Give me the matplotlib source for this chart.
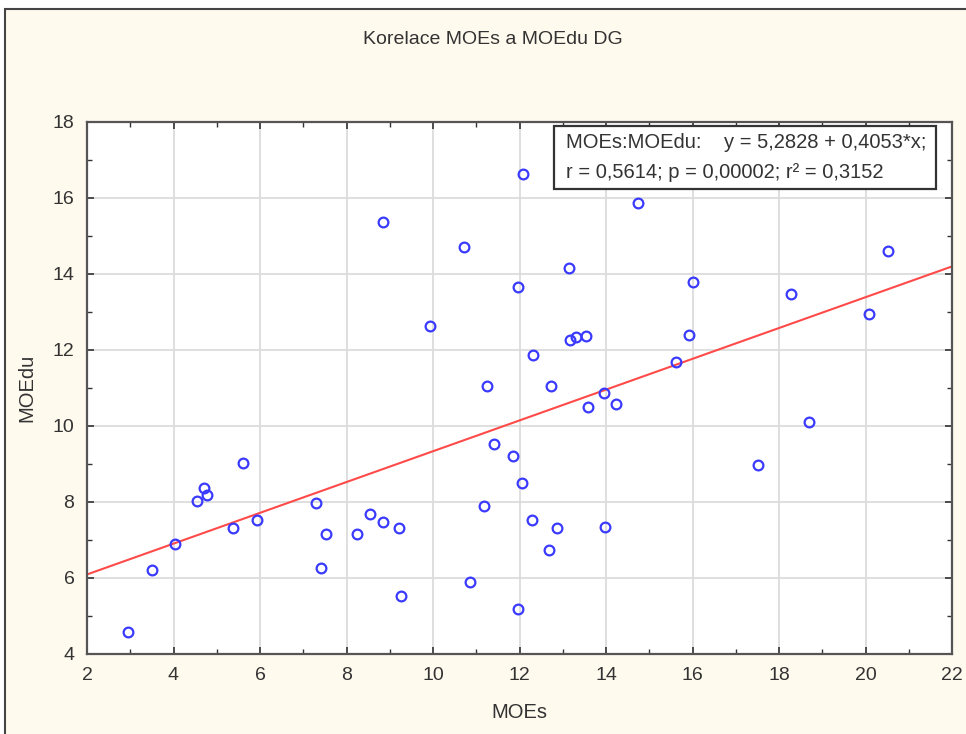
import matplotlib
matplotlib.use('Agg')
import matplotlib.pyplot as plt
from matplotlib.patches import Rectangle
from matplotlib.ticker import MultipleLocator
import numpy as np

# 字体
plt.rcParams['font.family'] = ['Liberation Sans', 'DejaVu Sans']

# ===== 数据=====
moes = [2.95, 3.50, 4.03, 4.54, 4.70, 4.78, 5.38, 5.61, 5.93, 7.29,
        7.42, 7.52, 8.24, 8.55, 8.85, 8.85, 9.21, 9.25, 9.93, 10.72,
        10.86, 11.19, 11.26, 11.41, 11.85, 11.97, 11.97, 12.08, 12.06, 12.29,
        12.31, 12.68, 12.73, 12.87, 13.14, 13.17, 13.30, 13.54, 13.58, 13.95,
        13.98, 14.22, 14.74, 15.62, 15.92, 16.01, 17.51, 18.28, 18.69, 20.08,
        20.52]
moedu = [4.58, 6.20, 6.90, 8.03, 8.37, 8.19, 7.31, 9.03, 7.53, 7.97,
         6.26, 7.16, 7.16, 7.69, 7.48, 15.37, 7.31, 5.52, 12.64, 14.72,
         5.89, 7.89, 11.05, 9.53, 9.22, 13.66, 5.18, 16.64, 8.50, 7.53,
         11.87, 6.74, 11.05, 7.32, 14.16, 12.26, 12.34, 12.37, 10.50, 10.87,
         7.34, 10.58, 15.87, 11.68, 12.39, 13.79, 8.97, 13.47, 10.11, 12.95,
         14.60]

# 回归方程（图中给出）
intercept = 5.2828
slope = 0.4053
stats_line1 = "MOEs:MOEdu:    y = 5,2828 + 0,4053*x;"
stats_line2 = "r = 0,5614; p = 0,00002; r² = 0,3152"

xlim = (2, 22)
ylim = (4, 18)

# ===== 绘图 =====
fig = plt.figure(figsize=(9.66, 7.34), dpi=100, facecolor='white')

# 外框 + 米色背景
bg = Rectangle((5 / 966, -0.5), 2.0, 1 - 9 / 734 + 0.5, transform=fig.transFigure,
               facecolor='#fffaee', edgecolor='#444444', linewidth=1.5, zorder=-1)
fig.patches.append(bg)

ax = fig.add_axes([87 / 966, 1 - 654 / 734, 865 / 966, 532 / 734])
ax.set_facecolor('white')

ax.plot(moes, moedu, linestyle='none', marker='o', markersize=7,
        markerfacecolor='none', markeredgecolor='#3a3aff', markeredgewidth=1.6, zorder=3)

x_line = np.array(xlim)
ax.plot(x_line, intercept + slope * x_line, color='#ff4a4a', linewidth=1.5, zorder=2)

ax.set_xlim(*xlim)
ax.set_ylim(*ylim)
ax.xaxis.set_major_locator(MultipleLocator(2))
ax.xaxis.set_minor_locator(MultipleLocator(1))
ax.yaxis.set_major_locator(MultipleLocator(2))
ax.yaxis.set_minor_locator(MultipleLocator(1))

ax.grid(True, which='major', color='#dcdcdc', linewidth=1.3)
ax.set_axisbelow(True)

ax.tick_params(which='both', direction='in', top=True, right=True,
               color='#333333', labelsize=14, labelcolor='#333333')
ax.tick_params(which='major', length=5, width=1.2, pad=9)
ax.tick_params(which='minor', length=3.5, width=1.0)

for sp in ax.spines.values():
    sp.set_color('#555555')
    sp.set_linewidth(1.6)

ax.set_xlabel('MOEs', fontsize=14.5, color='#333333', labelpad=14)
ax.set_ylabel('MOEdu', fontsize=14.5, color='#333333', labelpad=12)
fig.text(493 / 966, 1 - 39 / 734, 'Korelace MOEs a MOEdu DG', ha='center', va='center',
         fontsize=14, color='#333333')

# 统计结果框
box = Rectangle((0.540, 0.874), 0.4415, 0.118, transform=ax.transAxes,
                facecolor='white', edgecolor='#333333', linewidth=1.6, zorder=4)
ax.add_patch(box)
ax.text(0.554, 0.962, stats_line1, transform=ax.transAxes, ha='left', va='center',
        fontsize=14.5, color='#333333', zorder=5)
ax.text(0.554, 0.906, stats_line2, transform=ax.transAxes, ha='left', va='center',
        fontsize=14.5, color='#333333', zorder=5)

fig.savefig('out.png', dpi=100, facecolor=fig.get_facecolor())
